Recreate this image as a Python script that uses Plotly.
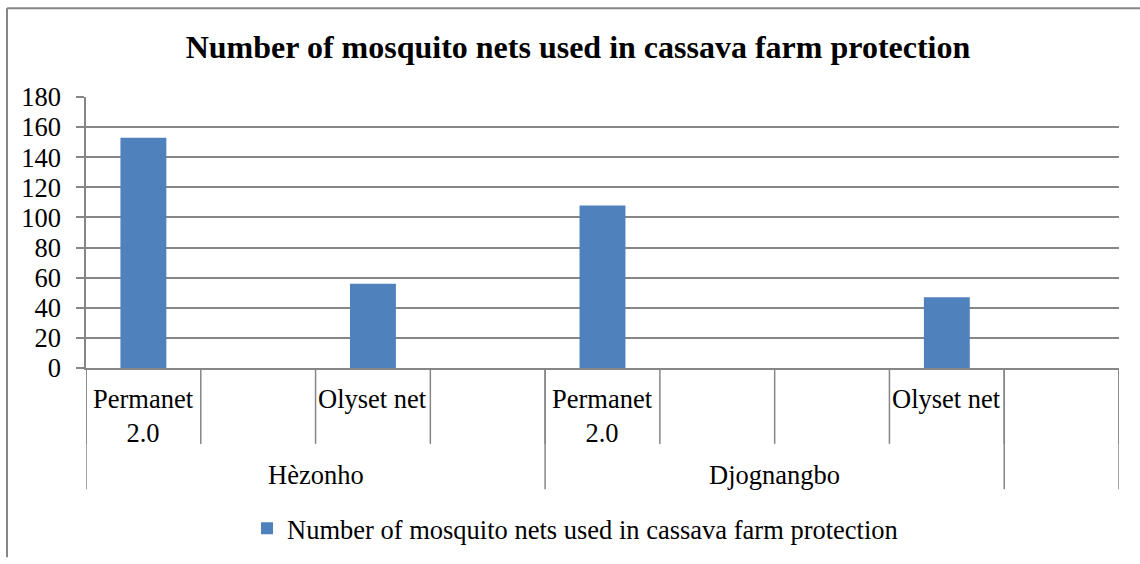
import plotly.graph_objects as go

# ---- data ----
categories = ["Permanet 2.0", "", "Olyset net", "", "Permanet 2.0", "", "", "Olyset net", ""]
groups = ["Hèzonho", "Djognangbo", ""]
group_sizes = [4, 4, 1]
values = [153, None, 56, None, 108, None, None, 47, None]
series_name = "Number of mosquito nets used in cassava farm protection"
title_text = "Number of mosquito nets used in cassava farm protection"
y_ticks = list(range(0, 181, 20))

# ---- layout constants (page pixel coords) ----
W, H = 1140, 564
PLOT_L, PLOT_R, PLOT_T, PLOT_B = 86, 1119, 97, 372
ML, MT = PLOT_L, PLOT_T
MR = W - PLOT_R
MB = H - PLOT_B
PH = PLOT_B - PLOT_T
PW = PLOT_R - PLOT_L
GRID = "#868686"
FONT = "Times New Roman, Liberation Serif, serif"
FS = 26.5
BAR = "#4F81BD"

def py(px):  # page pixel y -> paper y
    return (PLOT_B - px) / PH

def pxx(px):  # page pixel x -> paper x
    return (px - PLOT_L) / PW

idx = list(range(len(categories)))

fig = go.Figure()
fig.add_trace(go.Bar(
    x=idx, y=values, width=0.4, name=series_name,
    marker=dict(color=BAR, line=dict(width=0)),
    showlegend=True,
))

shapes = []
for i in range(len(categories) + 1):
    shapes.append(dict(type="line", xref="x", yref="paper",
                       x0=i - 0.5, x1=i - 0.5, y0=0, y1=py(449),
                       line=dict(color=GRID, width=1.5)))
pos = -0.5
bounds = [pos]
for s in group_sizes:
    pos += s
    bounds.append(pos)
for b in bounds:
    shapes.append(dict(type="line", xref="x", yref="paper",
                       x0=b, x1=b, y0=0, y1=py(495),
                       line=dict(color=GRID, width=1.5)))
# outer chart border: top and left edges
shapes.append(dict(type="line", xref="paper", yref="paper",
                   x0=pxx(7), x1=pxx(1140), y0=py(7), y1=py(7),
                   line=dict(color=GRID, width=2)))
shapes.append(dict(type="line", xref="paper", yref="paper",
                   x0=pxx(7), x1=pxx(7), y0=py(7), y1=py(564),
                   line=dict(color=GRID, width=2)))

annotations = []
for i, c in enumerate(categories):
    if not c:
        continue
    txt = c.replace("Permanet ", "Permanet<br>")
    annotations.append(dict(x=i, y=py(386), xref="x", yref="paper",
                            text=txt, showarrow=False, yanchor="top",
                            xanchor="center", align="center",
                            font=dict(family=FONT, size=FS, color="black")))
start = -0.5
for g, s in zip(groups, group_sizes):
    if g:
        annotations.append(dict(x=start + s / 2, y=py(481), xref="x", yref="paper",
                                text=g, showarrow=False, yanchor="middle",
                                xanchor="center",
                                font=dict(family=FONT, size=FS, color="black")))
    start += s

fig.update_layout(
    width=W, height=H,
    margin=dict(l=ML, r=MR, t=MT, b=MB),
    paper_bgcolor="white", plot_bgcolor="white",
    title=dict(text="<b>" + title_text + "</b>", x=578 / W, xref="container",
               y=1 - 47 / H, yref="container", xanchor="center", yanchor="middle",
               font=dict(family=FONT, size=32, color="black")),
    xaxis=dict(range=[-0.5, len(categories) - 0.5], showticklabels=False,
               showgrid=False, zeroline=False, showline=True,
               linecolor=GRID, linewidth=1.5, ticks=""),
    yaxis=dict(range=[0, 180], tickvals=y_ticks, showgrid=True,
               gridcolor=GRID, gridwidth=1.5, zeroline=False,
               showline=True, linecolor=GRID, linewidth=1.5,
               ticks="outside", ticklen=8, tickcolor=GRID, tickwidth=1.5,
               ticklabelstandoff=10,
               tickfont=dict(family=FONT, size=FS, color="black")),
    legend=dict(orientation="h", x=pxx(247), xanchor="left",
                y=py(535), yanchor="middle",
                font=dict(family=FONT, size=FS, color="black"),
                itemwidth=30),
    shapes=shapes, annotations=annotations,
    bargap=0.6,
)

fig.write_html(
    "out.html",
    config={"displayModeBar": False},
    post_script="document.body.style.margin='0';document.body.style.overflow='hidden';",
)
